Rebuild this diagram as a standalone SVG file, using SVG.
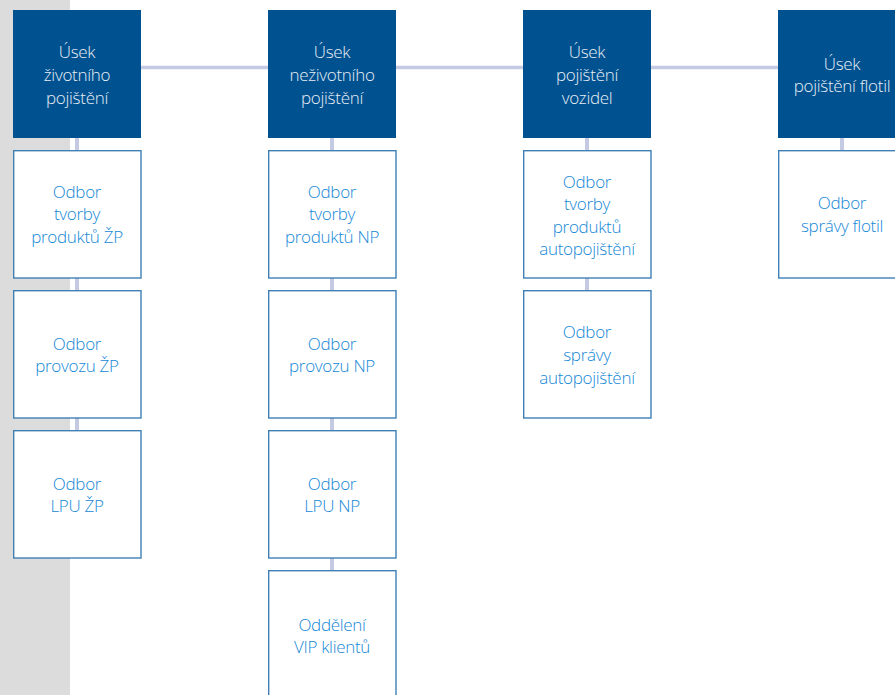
<svg xmlns="http://www.w3.org/2000/svg" width="895" height="695" viewBox="0 0 895 695">
<style>
.hd{fill:#00518f}
.bx{fill:#ffffff;stroke:#3f7fb6;stroke-width:1.4}
.ht{font-family:"Open Sans","Liberation Sans",sans-serif;font-size:17px;font-weight:300;letter-spacing:-0.3px;fill:#e8eff7;text-anchor:middle}
.bt{font-family:"Open Sans","Liberation Sans",sans-serif;font-size:17px;font-weight:300;letter-spacing:-0.3px;fill:#1588d6;text-anchor:middle}
.cn{stroke:#c3cae2;fill:none}
</style>
<rect x="0" y="0" width="70" height="695" fill="#dcdcdd"/>
<g id="connectors">
<line class="cn" x1="141" y1="67.5" x2="778" y2="67.5" stroke-width="3.5"/>
<line class="cn" x1="77" y1="137" x2="77" y2="430" stroke-width="4"/>
<line class="cn" x1="332" y1="137" x2="332" y2="570" stroke-width="4"/>
<line class="cn" x1="587" y1="137" x2="587" y2="290" stroke-width="4"/>
<line class="cn" x1="842" y1="137" x2="842" y2="150" stroke-width="4"/>
</g>
<g id="h1"><rect class="hd" x="13" y="10" width="128" height="128"/>
<text class="ht" x="77" y="58">Úsek</text><text class="ht" x="77" y="81">životního</text><text class="ht" x="77" y="104">pojištění</text></g>
<g id="h2"><rect class="hd" x="268" y="10" width="128" height="128"/>
<text class="ht" x="332" y="58">Úsek</text><text class="ht" x="332" y="81">neživotního</text><text class="ht" x="332" y="104">pojištění</text></g>
<g id="h3"><rect class="hd" x="523" y="10" width="128" height="128"/>
<text class="ht" x="587" y="58">Úsek</text><text class="ht" x="587" y="81">pojištění</text><text class="ht" x="587" y="104">vozidel</text></g>
<g id="h4"><rect class="hd" x="778" y="10" width="128" height="128"/>
<text class="ht" x="842" y="70">Úsek</text><text class="ht" x="842" y="92">pojištění flotil</text></g>

<g id="b1a"><rect class="bx" x="13.7" y="150.7" width="127.3" height="127.3"/>
<text class="bt" x="77" y="198">Odbor</text><text class="bt" x="77" y="220">tvorby</text><text class="bt" x="77" y="243">produktů ŽP</text></g>
<g id="b1b"><rect class="bx" x="13.7" y="290.7" width="127.3" height="127.3"/>
<text class="bt" x="77" y="350">Odbor</text><text class="bt" x="77" y="372">provozu ŽP</text></g>
<g id="b1c"><rect class="bx" x="13.7" y="430.7" width="127.3" height="127.3"/>
<text class="bt" x="77" y="490">Odbor</text><text class="bt" x="77" y="512">LPU ŽP</text></g>

<g id="b2a"><rect class="bx" x="268.7" y="150.7" width="127.3" height="127.3"/>
<text class="bt" x="332" y="198">Odbor</text><text class="bt" x="332" y="220">tvorby</text><text class="bt" x="332" y="243">produktů NP</text></g>
<g id="b2b"><rect class="bx" x="268.7" y="290.7" width="127.3" height="127.3"/>
<text class="bt" x="332" y="350">Odbor</text><text class="bt" x="332" y="372">provozu NP</text></g>
<g id="b2c"><rect class="bx" x="268.7" y="430.7" width="127.3" height="127.3"/>
<text class="bt" x="332" y="490">Odbor</text><text class="bt" x="332" y="512">LPU NP</text></g>
<g id="b2d"><rect class="bx" x="268.7" y="570.7" width="127.3" height="127.3"/>
<text class="bt" x="332" y="631">Oddělení</text><text class="bt" x="332" y="653">VIP klientů</text></g>

<g id="b3a"><rect class="bx" x="523.7" y="150.7" width="127.3" height="127.3"/>
<text class="bt" x="587" y="188">Odbor</text><text class="bt" x="587" y="210">tvorby</text><text class="bt" x="587" y="233">produktů</text><text class="bt" x="587" y="255">autopojištění</text></g>
<g id="b3b"><rect class="bx" x="523.7" y="290.7" width="127.3" height="127.3"/>
<text class="bt" x="587" y="338">Odbor</text><text class="bt" x="587" y="361">správy</text><text class="bt" x="587" y="384">autopojištění</text></g>

<g id="b4a"><rect class="bx" x="778.7" y="150.7" width="127.3" height="127.3"/>
<text class="bt" x="842" y="209">Odbor</text><text class="bt" x="842" y="232">správy flotil</text></g>
</svg>
